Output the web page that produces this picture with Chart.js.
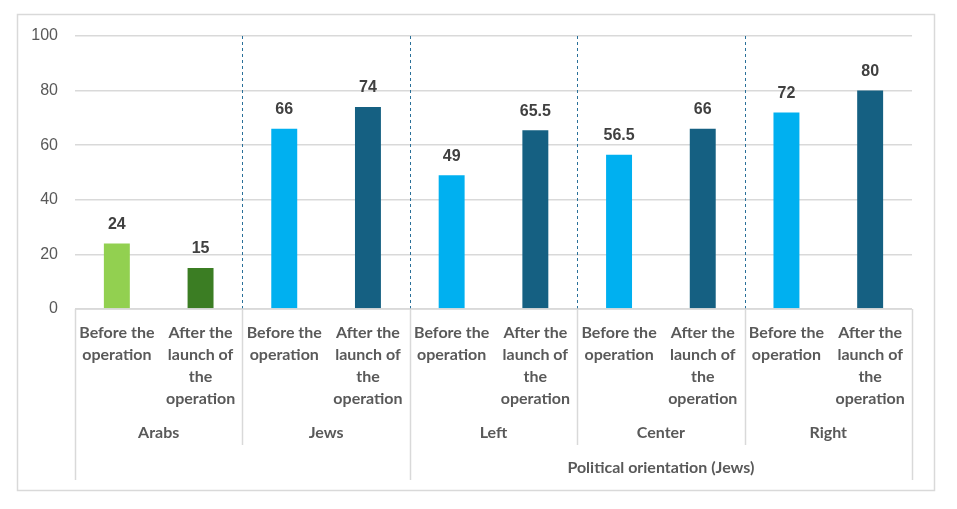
<!DOCTYPE html>
<html>
<head>
<meta charset="utf-8">
<script src="https://cdn.jsdelivr.net/npm/chart.js@4.4.0/dist/chart.umd.min.js"></script>
<style>
  html, body { margin: 0; padding: 0; background: #fff; }
  #wrap { position: absolute; left: 0; top: 0; width: 957px; height: 509px; }
</style>
</head>
<body>
<div id="wrap"><canvas id="c" width="957" height="509"></canvas></div>
<script>
// ---- Data ----
const subLabels = [
  ["Before the", "operation"],
  ["After the", "launch of", "the", "operation"],
  ["Before the", "operation"],
  ["After the", "launch of", "the", "operation"],
  ["Before the", "operation"],
  ["After the", "launch of", "the", "operation"],
  ["Before the", "operation"],
  ["After the", "launch of", "the", "operation"],
  ["Before the", "operation"],
  ["After the", "launch of", "the", "operation"]
];
const groupLabels = ["Arabs", "Jews", "Left", "Center", "Right"];
const superLabel = "Political orientation (Jews)";
const superGroupStart = 2; // group index where super label starts
const values = [24, 15, 66, 74, 49, 65.5, 56.5, 66, 72, 80];
const yTicks = [0, 20, 40, 60, 80, 100];

const barColors = ["#92D050", "#3B7D23", "#00B0F0", "#156082", "#00B0F0", "#156082", "#00B0F0", "#156082", "#00B0F0", "#156082"];

const catFont = "bold 16px Lato";
const textGray = "#595959";

const overlay = {
  id: 'overlay',
  beforeDraw(chart) {
    const ctx = chart.ctx;
    ctx.save();
    ctx.fillStyle = '#fff';
    ctx.fillRect(0, 0, chart.width, chart.height);
    ctx.strokeStyle = '#d9d9d9';
    ctx.lineWidth = 1.5;
    ctx.strokeRect(17.5, 14.5, 917, 476);
    ctx.restore();
  },
  afterDatasetsDraw(chart) {
    const ctx = chart.ctx;
    const x = chart.scales.x, y = chart.scales.y;
    const area = chart.chartArea;
    const n = values.length;
    const cw = (area.right - area.left) / n;
    ctx.save();
    // dashed group separators in plot
    ctx.strokeStyle = '#2A7099';
    ctx.lineWidth = 1;
    ctx.setLineDash([3, 3]);
    for (let g = 1; g < groupLabels.length; g++) {
      const xx = Math.round(area.left + cw * g * 2) + 0.5;
      ctx.beginPath();
      ctx.moveTo(xx, area.top);
      ctx.lineTo(xx, area.bottom);
      ctx.stroke();
    }
    ctx.setLineDash([]);
    // axis line
    ctx.strokeStyle = '#d9d9d9';
    ctx.lineWidth = 1.5;
    ctx.beginPath();
    ctx.moveTo(area.left, area.bottom);
    ctx.lineTo(area.right, area.bottom);
    ctx.stroke();
    // vertical category separators below axis
    for (let g = 0; g <= groupLabels.length; g++) {
      const xx = Math.round(area.left + cw * g * 2) + 0.5;
      const long = (g === 0 || g === superGroupStart || g === groupLabels.length);
      ctx.beginPath();
      ctx.moveTo(xx, area.bottom);
      ctx.lineTo(xx, long ? area.bottom + 171 : area.bottom + 136);
      ctx.stroke();
    }
    // data labels
    ctx.fillStyle = '#404040';
    ctx.font = 'bold 16px "Liberation Sans", Arial, sans-serif';
    ctx.textAlign = 'center';
    ctx.textBaseline = 'middle';
    values.forEach((v, i) => {
      const px = x.getPixelForValue(i);
      const py = y.getPixelForValue(v);
      ctx.fillText(String(v), px, py - 19);
    });
    // sub category labels
    ctx.fillStyle = textGray;
    ctx.font = catFont;
    subLabels.forEach((lines, i) => {
      const px = x.getPixelForValue(i);
      lines.forEach((ln, k) => {
        ctx.fillText(ln, px, area.bottom + 24 + k * 22);
      });
    });
    // group labels
    groupLabels.forEach((g, gi) => {
      const px = area.left + cw * (gi * 2 + 1);
      ctx.fillText(g, px, area.bottom + 124);
    });
    // super label
    const sx = (area.left + cw * superGroupStart * 2 + area.right) / 2;
    ctx.fillText(superLabel, sx, area.bottom + 159);
    ctx.restore();
  }
};

new Chart(document.getElementById('c'), {
  type: 'bar',
  data: {
    labels: subLabels.map(l => l.join(' ')),
    datasets: [{
      data: values,
      backgroundColor: barColors,
      borderWidth: 0,
      barPercentage: 0.31,
      categoryPercentage: 1.0
    }]
  },
  options: {
    responsive: false,
    animation: false,
    devicePixelRatio: 1,
    layout: { padding: { left: 0, right: 45, top: 36, bottom: 200 } },
    plugins: { legend: { display: false }, tooltip: { enabled: false } },
    scales: {
      x: { display: false },
      y: {
        min: 0, max: 100,
        afterFit(scale) { scale.width = 75; },
        afterBuildTicks(scale) { scale.ticks = yTicks.map(v => ({ value: v })); },
        border: { display: false },
        grid: { color: '#d9d9d9', lineWidth: 1.5, drawTicks: false },
        ticks: {
          padding: 17,
          color: textGray,
          font: { family: '"Liberation Sans", Arial, sans-serif', size: 16 }
        }
      }
    }
  },
  plugins: [overlay]
});
</script>
</body>
</html>
